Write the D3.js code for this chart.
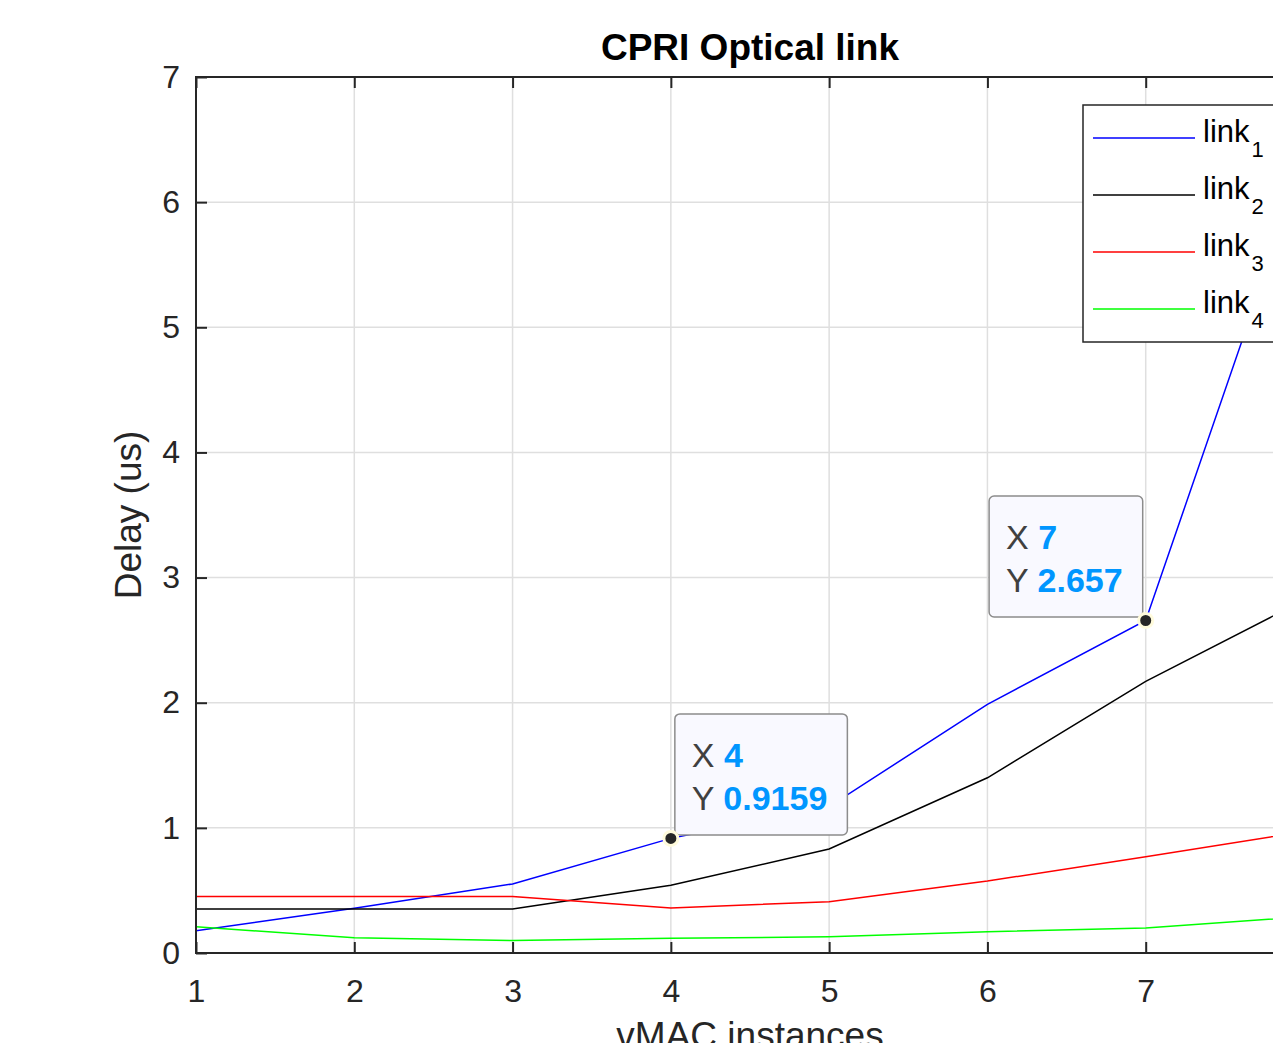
<!DOCTYPE html>
<html>
<head>
<meta charset="utf-8">
<script src="https://cdn.jsdelivr.net/npm/d3@7"></script>
<style>
  html, body { margin: 0; padding: 0; background: #ffffff; overflow: hidden; }
  svg { display: block; font-family: "Liberation Sans", Arial, Helvetica, sans-serif; }
</style>
</head>
<body>
<svg id="chart" width="1273" height="1043"></svg>
<script>
// ---- data ----
const xValues = [1, 2, 3, 4, 5, 6, 7, 8];
const link1 = [0.178, 0.357, 0.552, 0.9159, 1.17, 1.987, 2.657, 6.33];
const link2 = [0.352, 0.352, 0.352, 0.541, 0.831, 1.40, 2.17, 2.82];
const link3 = [0.452, 0.452, 0.452, 0.36, 0.41, 0.575, 0.77, 0.97];
const link4 = [0.21, 0.122, 0.10, 0.117, 0.13, 0.17, 0.20, 0.29];
const seriesNames = ["link", "link", "link", "link"];
const seriesSubs = ["1", "2", "3", "4"];
const seriesColors = ["#0000ff", "#000000", "#ff0000", "#00ff00"];
const xTicks = [1, 2, 3, 4, 5, 6, 7];
const yTicks = [0, 1, 2, 3, 4, 5, 6, 7];
const titleText = "CPRI Optical link";
const xLabelText = "vMAC instances";
const yLabelText = "Delay (us)";
const tipPoints = [{ series: 0, x: 4, label: "0.9159", side: "right" },
                   { series: 0, x: 7, label: "2.657", side: "left" }];

const allSeries = [link1, link2, link3, link4];

// ---- layout ----
const svg = d3.select("#chart");
const L = 196, R = 1304, T = 77, B = 953;
const x = d3.scaleLinear().domain([1, 8]).range([L, R]);
const y = d3.scaleLinear().domain([0, 7]).range([B, T]);
const axisColor = "#262626";
const tickLen = 11;

svg.append("defs").append("clipPath").attr("id", "plotclip")
  .append("rect").attr("x", L).attr("y", T).attr("width", R - L).attr("height", B - T);

// grid
const grid = svg.append("g");
grid.selectAll("line.gx").data(xTicks).enter().append("line")
  .attr("x1", d => x(d)).attr("x2", d => x(d)).attr("y1", T).attr("y2", B)
  .attr("stroke", "#dfdfdf").attr("stroke-width", 1.5);
grid.selectAll("line.gy").data(yTicks).enter().append("line")
  .attr("x1", L).attr("x2", R).attr("y1", d => y(d)).attr("y2", d => y(d))
  .attr("stroke", "#dfdfdf").attr("stroke-width", 1.5);

// lines
const lineGen = d3.line().x((d, i) => x(xValues[i])).y(d => y(d));
const lines = svg.append("g").attr("clip-path", "url(#plotclip)");
allSeries.forEach((s, i) => {
  lines.append("path").datum(s).attr("d", lineGen)
    .attr("fill", "none").attr("stroke", seriesColors[i]).attr("stroke-width", 1.5);
});

// axes (MATLAB style, ticks inside, box)
const xAxisB = d3.axisBottom(x).tickValues(xTicks).tickSize(-tickLen).tickPadding(26).tickFormat(d3.format("d"));
const xAxisT = d3.axisTop(x).tickValues(xTicks).tickSize(-tickLen).tickFormat("");
const yAxisL = d3.axisLeft(y).tickValues(yTicks).tickSize(-tickLen).tickPadding(16).tickFormat(d3.format("d"));
const yAxisR = d3.axisRight(y).tickValues(yTicks).tickSize(-tickLen).tickFormat("");

function styleAxis(g) {
  g.select(".domain").attr("stroke", axisColor).attr("stroke-width", 2);
  g.selectAll(".tick line").attr("stroke", axisColor).attr("stroke-width", 2);
  g.selectAll(".tick text").attr("fill", axisColor).style("font-size", "32px")
    .style("font-family", "'Liberation Sans', Arial, sans-serif");
}
svg.append("g").attr("transform", `translate(0,${B})`).call(xAxisB).call(styleAxis)
  .selectAll(".tick text").attr("dy", "0.71em");
svg.append("g").attr("transform", `translate(0,${T})`).call(xAxisT).call(styleAxis);
svg.append("g").attr("transform", `translate(${L},0)`).call(yAxisL).call(styleAxis);
svg.append("g").attr("transform", `translate(${R},0)`).call(yAxisR).call(styleAxis);
svg.selectAll(".domain").attr("d", null);
// box
svg.append("rect").attr("x", L).attr("y", T).attr("width", R - L).attr("height", B - T)
  .attr("fill", "none").attr("stroke", axisColor).attr("stroke-width", 2);

// title & labels
svg.append("text").attr("x", (L + R) / 2).attr("y", 60).attr("text-anchor", "middle")
  .style("font-size", "37px").style("font-weight", "bold").attr("fill", "#000").text(titleText);
svg.append("text").attr("x", (L + R) / 2).attr("y", 1048).attr("text-anchor", "middle")
  .style("font-size", "37px").attr("fill", axisColor).text(xLabelText);
svg.append("text").attr("transform", `translate(141,${(T + B) / 2}) rotate(-90)`).attr("text-anchor", "middle")
  .style("font-size", "37px").attr("fill", axisColor).text(yLabelText);

// legend
const legX = 1083, legY = 105, legW = 210, legH = 237;
const leg = svg.append("g");
leg.append("rect").attr("x", legX).attr("y", legY).attr("width", legW).attr("height", legH)
  .attr("fill", "#ffffff").attr("stroke", axisColor).attr("stroke-width", 1.5);
allSeries.forEach((s, i) => {
  const ly = legY + 33 + i * 57;
  leg.append("line").attr("x1", legX + 10).attr("x2", legX + 112).attr("y1", ly).attr("y2", ly)
    .attr("stroke", seriesColors[i]).attr("stroke-width", 1.5);
  const t = leg.append("text").attr("x", legX + 120).attr("y", ly + 4)
    .style("font-size", "31px").attr("fill", "#000");
  t.append("tspan").text(seriesNames[i]);
  t.append("tspan").attr("dx", 2).attr("dy", 15).style("font-size", "22px").text(seriesSubs[i]);
});

// data tips
const tips = svg.append("g");
tipPoints.forEach(tp => {
  const px = x(tp.x), py = y(allSeries[tp.series][xValues.indexOf(tp.x)]);
  const g = tips.append("g");
  const box = g.append("rect");
  const t1 = g.append("text").style("font-size", "34px");
  t1.append("tspan").attr("fill", "#404040").text("X ");
  t1.append("tspan").attr("fill", "#0096ff").style("font-weight", "bold").text(String(tp.x));
  const t2 = g.append("text").style("font-size", "34px");
  t2.append("tspan").attr("fill", "#404040").text("Y ");
  t2.append("tspan").attr("fill", "#0096ff").style("font-weight", "bold").text(tp.label);
  const w = Math.max(t1.node().getComputedTextLength(), t2.node().getComputedTextLength()) + 37;
  const h = 121;
  const bx = tp.side === "right" ? px + 4 : px - 3 - w;
  const by = py - 3.5 - h;
  box.attr("x", bx).attr("y", by).attr("width", w).attr("height", h).attr("rx", 5)
    .attr("fill", "#f9f9ff").attr("stroke", "#8c8c8c").attr("stroke-width", 1.5);
  t1.attr("x", bx + 17).attr("y", by + 53);
  t2.attr("x", bx + 17).attr("y", by + 96);
  g.append("circle").attr("cx", px).attr("cy", py).attr("r", 7)
    .attr("fill", "#262626").attr("stroke", "#fffbdc").attr("stroke-width", 3);
});
</script>
</body>
</html>
